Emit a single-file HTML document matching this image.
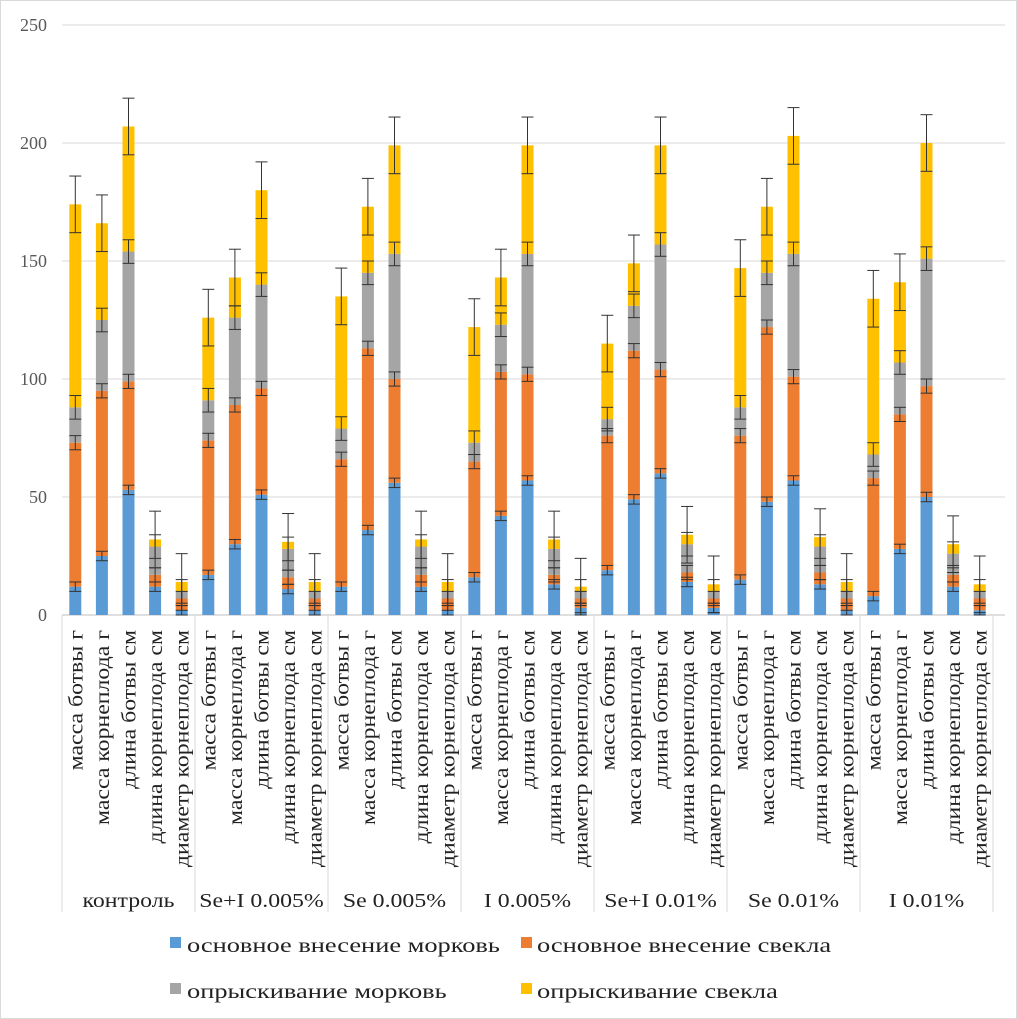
<!DOCTYPE html>
<html><head><meta charset="utf-8"><style>
body{margin:0;background:#fff;}
svg{display:block;font-family:"Liberation Serif","DejaVu Serif",serif;}
</style></head><body>
<svg width="1017" height="1019" viewBox="0 0 1017 1019">
<rect x="0.5" y="0.5" width="1016" height="1018" fill="#fff" stroke="#d9d9d9"/>
<g id="grid"></g><g id="bars"></g><g id="xaxis"></g>
<g font-size="20" fill="#222">
<rect x="170" y="937" width="11" height="11" fill="#5b9bd5"/>
<text class="lg" x="187" y="952">основное внесение  морковь</text>
<rect x="521" y="937" width="11" height="11" fill="#ed7d31"/>
<text class="lg" x="537" y="952">основное внесение  свекла</text>
<rect x="170" y="983" width="11" height="11" fill="#a5a5a5"/>
<text class="lg" x="187" y="998">опрыскивание морковь</text>
<rect x="521" y="983" width="11" height="11" fill="#ffc000"/>
<text class="lg" x="537" y="998">опрыскивание свекла</text>
</g>
</svg>
<script>
const groups = ["контроль","Se+I 0.005%","Se 0.005%","I 0.005%","Se+I 0.01%","Se 0.01%","I 0.01%"];
const subcats = ["масса ботвы г","масса корнеплода г","длина ботвы см","длина корнеплода см","диаметр корнеплода см"];
const blue   = [12,25,53,12,2, 17,30,51,11,2, 12,36,56,12,2, 16,42,57,13,3, 19,49,60,14,3, 15,48,57,13,2, 8,28,50,12,2];
const orange = [61,70,46,5,5, 57,59,45,5,5, 54,77,44,5,5, 49,61,45,4,4, 57,63,44,4,4, 61,74,44,5,5, 50,57,47,5,5];
const gray   = [15,30,55,12,3, 17,37,44,12,3, 13,32,53,12,3, 8,20,51,11,3, 7,19,53,12,3, 12,23,52,11,3, 10,22,54,9,3];
const yellow = [86,41,53,3,4, 35,17,40,3,4, 56,28,46,3,4, 49,20,46,4,2, 32,18,42,4,3, 59,28,50,4,4, 66,34,49,4,3];
const errs = [2,3,5,12];
const yTicks = [0,50,100,150,200,250];
const NS="http://www.w3.org/2000/svg";
const x0=62, slot=26.6, bw=12, yBase=615, pxPer=2.36;
const Y=v=>yBase-v*pxPer;
const X=i=>x0+slot*(i+0.5);
function mk(tag,attrs,parent){const e=document.createElementNS(NS,tag);for(const k in attrs)e.setAttribute(k,attrs[k]);parent.appendChild(e);return e;}
function stretch(el,f){const w=el.getComputedTextLength();el.setAttribute('textLength',w*f);el.setAttribute('lengthAdjust','spacingAndGlyphs');}
const grid=document.getElementById('grid'),bars=document.getElementById('bars'),xa=document.getElementById('xaxis');
yTicks.forEach(t=>{
 const l=mk('line',{x1:x0,x2:1005,y1:Y(t),y2:Y(t),stroke:t===0?'#bfbfbf':'#d9d9d9','stroke-width':1},grid);
 
 
 const tx=mk('text',{x:47,y:Y(t)+6,'text-anchor':'end','font-size':18,fill:'#595959'},grid);
 tx.textContent=t;
 
 
});
const series=[blue,orange,gray,yellow],colors=['#5b9bd5','#ed7d31','#a5a5a5','#ffc000'],sn=['base-carrot','base-beet','spray-carrot','spray-beet'];
for(let i=0;i<blue.length;i++){
 let cum=0;const cx=X(i);const tops=[];
 series.forEach((s,k)=>{
  const r=mk('rect',{x:cx-bw/2,y:Y(cum+s[i]),width:bw,height:s[i]*pxPer,fill:colors[k]},bars);
  
  
  cum+=s[i];tops.push(cum);
 });
 tops.forEach((t,k)=>{
  const e=errs[k];
  const g=mk('g',{stroke:'#333','stroke-width':1},bars);
  
  
  mk('line',{x1:cx,x2:cx,y1:Y(t+e),y2:Y(t-e)},g);
  mk('line',{x1:cx-6,x2:cx+6,y1:Y(t+e),y2:Y(t+e)},g);
  mk('line',{x1:cx-6,x2:cx+6,y1:Y(t-e),y2:Y(t-e)},g);
 });
 const lb=mk('text',{transform:`translate(${cx+7},630) rotate(-90)`,'text-anchor':'end','font-size':20,fill:'#222'},xa);
 lb.textContent=subcats[i%5];
 
 
 stretch(lb,1.19);
}
for(let g=0;g<=groups.length;g++){
 const x=x0+g*slot*5;
 const l=mk('line',{x1:x,x2:x,y1:yBase,y2:912,stroke:'#d9d9d9'},xa);
 
 
}
groups.forEach((n,g)=>{
 const t=mk('text',{x:x0+(g+0.5)*slot*5,y:907,'text-anchor':'middle','font-size':20,fill:'#222'},xa);
 t.textContent=n;
 
 
 stretch(t,1.19);
});
document.querySelectorAll('.lg').forEach(t=>stretch(t,1.32));
</script>
</body></html>
